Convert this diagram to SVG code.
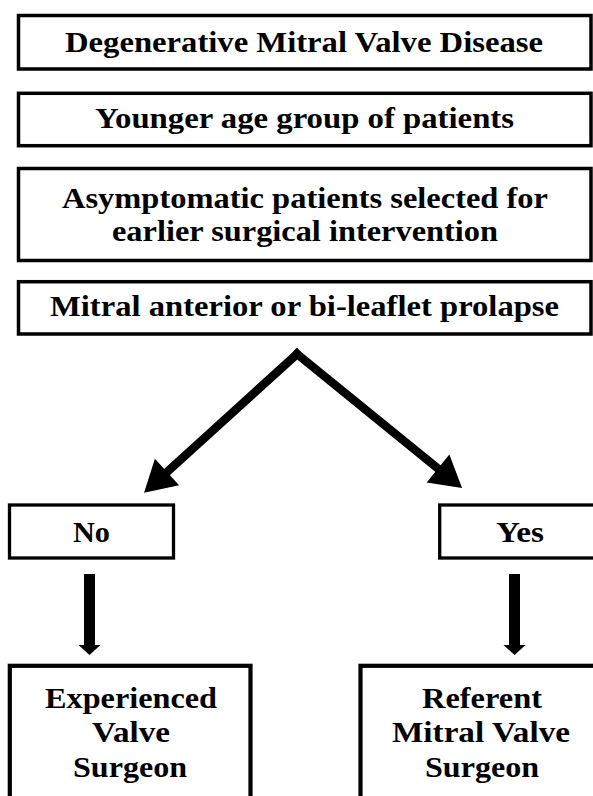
<svg xmlns="http://www.w3.org/2000/svg" width="593" height="796" viewBox="0 0 593 796">
<style>
.box{fill:#fff;stroke:#000;stroke-width:3.5}
.big{stroke-width:4.2}
.t{font-family:'Liberation Serif','Times New Roman',Tinos,serif;font-weight:700;font-size:30px;fill:#000;text-anchor:middle}
.diag{fill:none;stroke:#000;stroke-width:8.5;stroke-linecap:square}
.vert{fill:none;stroke:#000;stroke-width:11;stroke-linecap:butt}
</style>
<defs>
<marker id="headD" markerUnits="userSpaceOnUse" viewBox="0 0 31 36" refX="0" refY="18" markerWidth="31" markerHeight="36" orient="auto" overflow="visible">
<path d="M0,0 L31,18 L0,36 Z" fill="#000"/>
</marker>
<marker id="headV" markerUnits="userSpaceOnUse" viewBox="0 0 10 22" refX="0" refY="11" markerWidth="10" markerHeight="22" orient="auto" overflow="visible">
<path d="M0,0 L10,11 L0,22 Z" fill="#000"/>
</marker>
</defs>
<rect width="593" height="796" fill="#fff"/>
<g id="n1">
<rect class="box" x="18.5" y="15.5" width="572.5" height="53.5"/>
<text class="t" x="304" y="52" textLength="478" lengthAdjust="spacingAndGlyphs">Degenerative Mitral Valve Disease</text>
</g>
<g id="n2">
<rect class="box" x="18.5" y="93.3" width="572.5" height="52.4"/>
<text class="t" x="304.5" y="128" textLength="419" lengthAdjust="spacingAndGlyphs">Younger age group of patients</text>
</g>
<g id="n3">
<rect class="box" x="18.5" y="168.5" width="572.5" height="92"/>
<text class="t" x="305" y="208" textLength="486" lengthAdjust="spacingAndGlyphs">Asymptomatic patients selected for</text>
<text class="t" x="305" y="241" textLength="386" lengthAdjust="spacingAndGlyphs">earlier surgical intervention</text>
</g>
<g id="n4">
<rect class="box" x="18.5" y="281.7" width="572.5" height="52.3"/>
<text class="t" x="304.5" y="316" textLength="509" lengthAdjust="spacingAndGlyphs">Mitral anterior or bi-leaflet prolapse</text>
</g>
<g id="n5">
<rect class="box" x="9.5" y="505" width="164" height="53" style="stroke-width:3.3"/>
<text class="t" x="91.5" y="542" textLength="37" lengthAdjust="spacingAndGlyphs">No</text>
</g>
<g id="n6">
<rect class="box" x="439.7" y="505" width="170" height="53" style="stroke-width:3.3"/>
<text class="t" x="520" y="542" textLength="48" lengthAdjust="spacingAndGlyphs">Yes</text>
</g>
<g id="n7">
<rect class="box big" x="9.8" y="665.8" width="240.7" height="150"/>
<text class="t" x="131" y="708" textLength="172" lengthAdjust="spacingAndGlyphs">Experienced</text>
<text class="t" x="131" y="742" textLength="78" lengthAdjust="spacingAndGlyphs">Valve</text>
<text class="t" x="130" y="777" textLength="114" lengthAdjust="spacingAndGlyphs">Surgeon</text>
</g>
<g id="n8">
<rect class="box big" x="360.5" y="665.8" width="260" height="150"/>
<text class="t" x="482" y="708" textLength="120" lengthAdjust="spacingAndGlyphs">Referent</text>
<text class="t" x="481" y="742" textLength="178" lengthAdjust="spacingAndGlyphs">Mitral Valve</text>
<text class="t" x="482" y="777" textLength="114" lengthAdjust="spacingAndGlyphs">Surgeon</text>
</g>
<g id="connectors">
<path class="diag" d="M297,354 L167,472" marker-end="url(#headD)"/>
<path class="diag" d="M297,354 L438,468.5" marker-end="url(#headD)"/>
<path class="vert" d="M89.5,574 L89.5,645" marker-end="url(#headV)"/>
<path class="vert" d="M514.5,574 L514.5,645" marker-end="url(#headV)"/>
</g>
</svg>
